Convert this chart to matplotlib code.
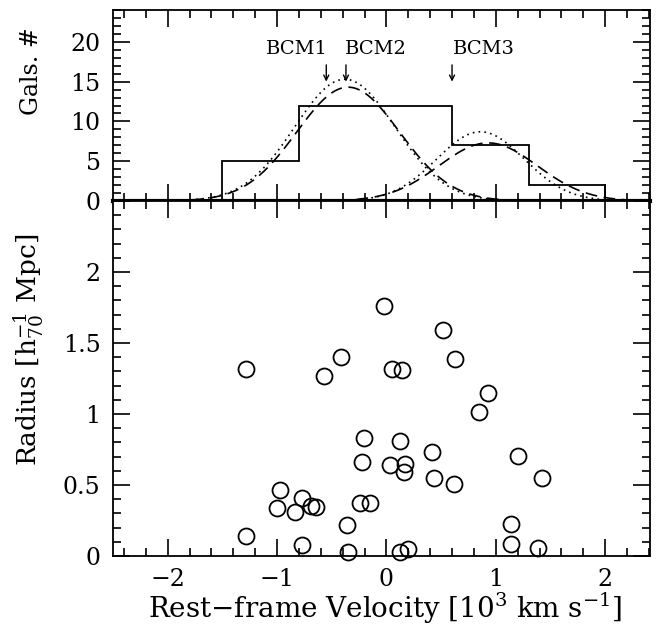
import numpy as np
import matplotlib
matplotlib.use("Agg")
import matplotlib.pyplot as plt
from matplotlib.ticker import MultipleLocator, FuncFormatter

# ---------------- data ----------------
velocity = [-1.284, -0.569, -0.414, -0.023, 0.048, 0.139,
            0.520, 0.624, 0.929, 0.844,
            -0.206, 0.121, -0.223, 0.029, 0.169, 0.157,
            -0.972, -0.996, -0.838, -0.771, -0.691, -0.643,
            -0.246, -0.148, -0.364, -1.280, -0.771, -0.355,
            0.121, 0.197,
            0.413, 0.432, 0.621, 1.207, 1.423, 1.143, 1.143, 1.387]
radius = [1.315, 1.270, 1.401, 1.761, 1.315, 1.310,
          1.589, 1.385, 1.146, 1.012,
          0.829, 0.812, 0.662, 0.641, 0.650, 0.589,
          0.467, 0.340, 0.308, 0.406, 0.354, 0.347,
          0.376, 0.376, 0.216, 0.143, 0.075, 0.031,
          0.031, 0.047,
          0.735, 0.552, 0.507, 0.702, 0.549, 0.223, 0.082, 0.054]
bin_edges = [-1.5, -0.8, -0.1, 0.6, 1.3, 2.0]

# Gaussian fits: (amplitude, mean, sigma)
dotted_fits = [(15.3, -0.38, 0.46), (8.7, 0.86, 0.40)]
dashed_fits = [(14.3, -0.35, 0.47), (7.3, 0.93, 0.45)]

bcm_names = ["BCM1", "BCM2", "BCM3"]
bcm_vel = [-0.55, -0.37, 0.60]
bcm_label_x = [-0.82, -0.10, 0.89]

# ---------------- style ----------------
plt.rcParams['font.family'] = ['DejaVu Serif', 'DejaVu Sans']
plt.rcParams['mathtext.fontset'] = 'dejavuserif'

W, H = 658, 633
fig = plt.figure(figsize=(W / 100, H / 100), dpi=100)
left, right = 113 / W, 650 / W
ax_top = fig.add_axes([left, 1 - 201 / H, right - left, 191 / H])
ax_bot = fig.add_axes([left, 1 - 556 / H, right - left, 355 / H])

xlim = (-2.5, 2.41)


def make_fmt(hide=()):
    def f(v, p):
        if any(abs(v - h) < 1e-9 for h in hide):
            return ''
        return ('%g' % v).replace('-', '\u2212')
    return FuncFormatter(f)


for ax in (ax_top, ax_bot):
    ax.set_xlim(*xlim)
    ax.xaxis.set_major_locator(MultipleLocator(1))
    ax.xaxis.set_minor_locator(MultipleLocator(0.2))
    ax.tick_params(which='both', direction='in', top=True, right=True,
                   width=1.2, labelsize=17)
    ax.tick_params(axis='x', pad=9)
    ax.tick_params(axis='y', pad=9)
    ax.tick_params(which='major', length=12)
    ax.tick_params(which='minor', length=6)
    for s in ax.spines.values():
        s.set_linewidth(1.3)
    ax.xaxis.set_major_formatter(make_fmt())

# ---------------- top panel ----------------
ax_top.set_ylim(0, 24)
ax_top.yaxis.set_major_locator(MultipleLocator(5))
ax_top.yaxis.set_minor_locator(MultipleLocator(1))
ax_top.yaxis.set_major_formatter(make_fmt())
ax_top.tick_params(labelbottom=False)
ax_top.spines['bottom'].set_linewidth(3)

ax_top.hist(velocity, bins=bin_edges, histtype='step', color='black', lw=1.3)

xx = np.linspace(-1.95, 2.3, 400)
for (a, m, s) in dotted_fits:
    ax_top.plot(xx, a * np.exp(-0.5 * ((xx - m) / s) ** 2), color='black',
                lw=1.2, ls=(0, (1, 2.5)))
for (a, m, s) in dashed_fits:
    ax_top.plot(xx, a * np.exp(-0.5 * ((xx - m) / s) ** 2), color='black',
                lw=1.2, ls=(0, (7, 4)))

for name, vx, lx in zip(bcm_names, bcm_vel, bcm_label_x):
    ax_top.annotate('', xy=(vx, 15.0), xytext=(vx, 17.1),
                    arrowprops=dict(arrowstyle='->', lw=1.0, color='black',
                                    shrinkA=0, shrinkB=0, mutation_scale=9))
    ax_top.text(lx, 19.1, name, ha='center', va='center', fontsize=14)

ax_top.set_ylabel('Gals. #', fontsize=17)
ax_top.yaxis.set_label_coords(-0.130, 0.678)

# ---------------- bottom panel ----------------
ax_bot.set_ylim(0, 2.5)
ax_bot.yaxis.set_major_locator(MultipleLocator(0.5))
ax_bot.yaxis.set_minor_locator(MultipleLocator(0.1))
ax_bot.yaxis.set_major_formatter(make_fmt(hide=(2.5,)))

ax_bot.plot(velocity, radius, ls='none', marker='o', ms=11.5, mfc='none',
            mec='black', mew=1.3, clip_on=False)

ax_bot.set_ylabel(r'Radius [h$_{70}^{-1}$ Mpc]', fontsize=19)
ax_bot.yaxis.set_label_coords(-0.125, 0.58)
ax_bot.set_xlabel(r'Rest$-$frame Velocity [10$^3$ km s$^{-1}$]', fontsize=20)
ax_bot.xaxis.set_label_coords(0.506, -0.098)

fig.savefig('out.png', dpi=100)
